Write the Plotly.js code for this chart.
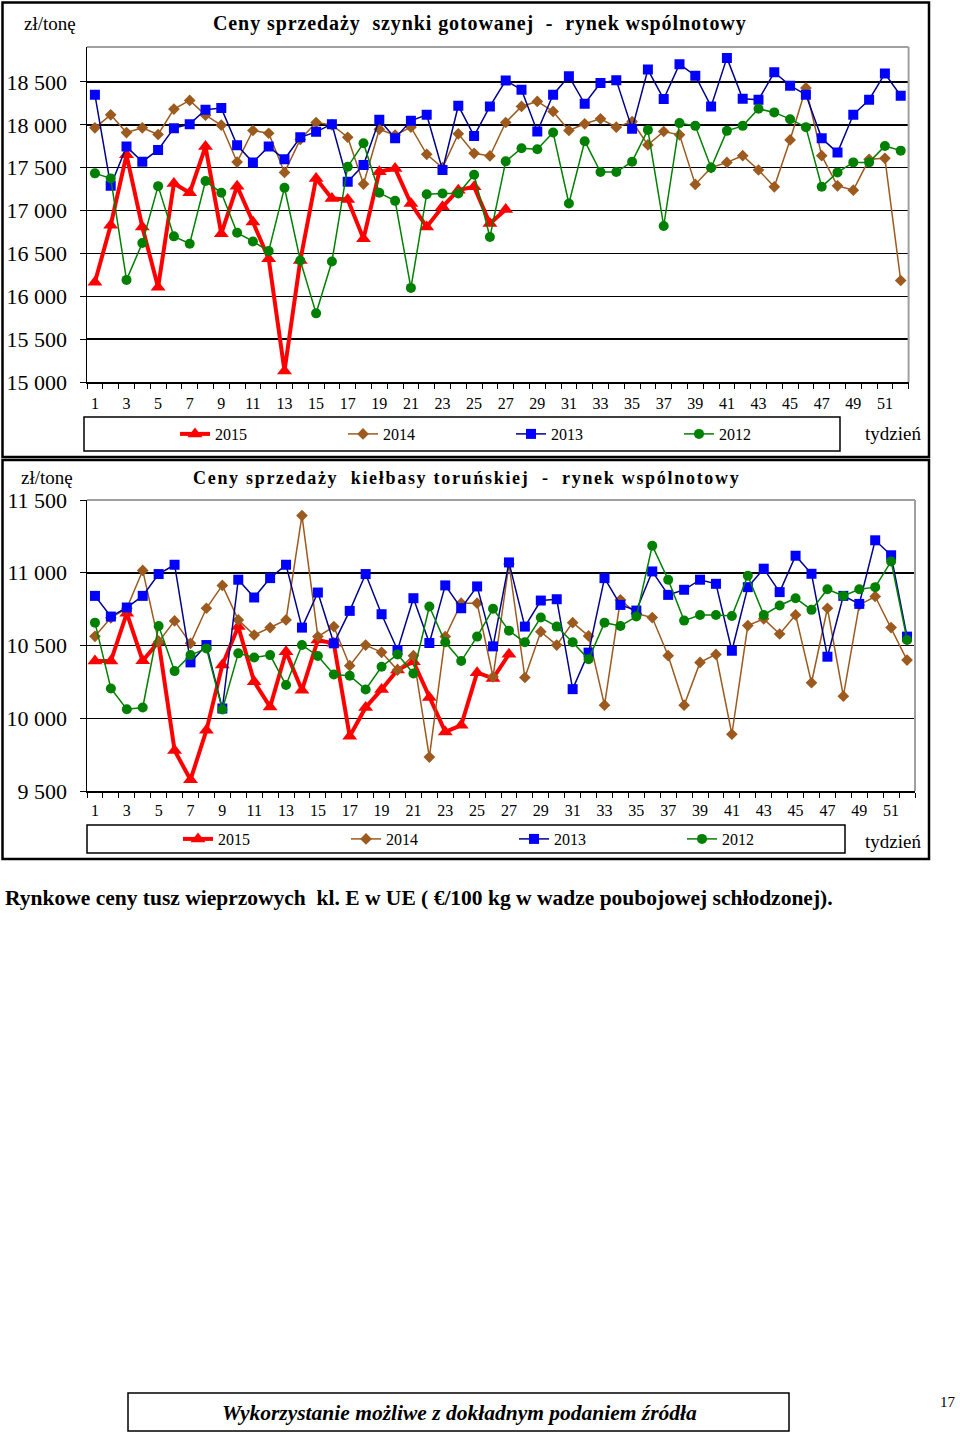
<!DOCTYPE html>
<html><head><meta charset="utf-8">
<script src="https://cdn.plot.ly/plotly-3.0.1.min.js"></script>
<style>html,body{margin:0;padding:0;background:#fff;} #chart{width:960px;height:1433px;}</style>
</head><body><div id="chart"></div>
<script>
// ---------- data ----------
const weeks = [1,2,3,4,5,6,7,8,9,10,11,12,13,14,15,16,17,18,19,20,21,22,23,24,25,26,27,28,29,30,31,32,33,34,35,36,37,38,39,40,41,42,43,44,45,46,47,48,49,50,51,52];
const weekTicks = [1,3,5,7,9,11,13,15,17,19,21,23,25,27,29,31,33,35,37,39,41,43,45,47,49,51];
const seriesNames = ['2015','2014','2013','2012'];

const hamTickVals = [15000,15500,16000,16500,17000,17500,18000,18500];
const hamTickText = ['15 000','15 500','16 000','16 500','17 000','17 500','18 000','18 500'];
const sausageTickVals = [9500,10000,10500,11000,11500];
const sausageTickText = ['9 500','10 000','10 500','11 000','11 500'];

// Ceny sprzedaży szynki gotowanej (zł/tonę)
const ham2015 = [16164,16828,17650,16809,16105,17316,17207,17746,16730,17285,16867,16437,15129,16418,17375,17141,17129,16672,17453,17492,17082,16809,17043,17238,17277,16848,17012];
const ham2014 = [17965,18117,17910,17965,17887,18184,18285,18113,17996,17566,17934,17902,17445,17830,18027,18000,17855,17309,17949,17880,17973,17656,17500,17895,17668,17637,18027,18215,18273,18156,17934,18012,18070,17973,18039,17766,17922,17883,17305,17500,17562,17640,17473,17277,17824,18430,17640,17289,17238,17598,17609,16184];
const ham2013 = [18352,17289,17746,17570,17707,17961,18008,18176,18195,17762,17562,17746,17598,17855,17918,18008,17336,17531,18059,17844,18047,18117,17473,18223,17871,18215,18516,18410,17922,18352,18566,18246,18488,18520,17953,18645,18301,18707,18574,18215,18781,18305,18293,18613,18457,18352,17844,17676,18117,18293,18598,18340];
const ham2012 = [17434,17375,16191,16621,17285,16699,16613,17344,17207,16742,16640,16527,17266,16418,15801,16406,17512,17785,17207,17113,16098,17191,17199,17199,17418,16691,17574,17727,17715,17910,17082,17809,17449,17449,17570,17941,16820,18020,17988,17500,17930,17988,18187,18145,18066,17973,17277,17445,17562,17562,17754,17699];

// Ceny sprzedaży kiełbasy toruńskiej (zł/tonę)
const sausage2015 = [10393,10393,10722,10395,10526,9779,9577,9917,10366,10630,10251,10078,10457,10193,10538,10515,9876,10074,10198,10331,10389,10142,9906,9952,10313,10274,10440];
const sausage2014 = [10563,10690,10756,11016,10526,10669,10515,10756,10913,10676,10572,10623,10676,11393,10561,10630,10361,10503,10453,10331,10430,9733,10561,10791,10791,10285,11060,10280,10595,10503,10657,10566,10090,10814,10720,10692,10430,10090,10384,10439,9890,10637,10683,10579,10710,10244,10756,10152,10779,10837,10623,10400];
const sausage2013 = [10841,10699,10761,10841,10991,11055,10384,10503,10067,10952,10830,10963,11055,10623,10864,10515,10738,10991,10715,10469,10825,10517,10913,10756,10906,10494,11071,10630,10809,10818,10200,10451,10963,10779,10740,11009,10848,10883,10952,10924,10464,10901,11028,10867,11117,10993,10423,10841,10786,11223,11120,10561];
const sausage2012 = [10657,10205,10062,10074,10634,10324,10434,10480,10060,10446,10418,10434,10228,10503,10428,10301,10292,10198,10354,10439,10308,10768,10522,10393,10561,10752,10602,10522,10692,10630,10522,10405,10657,10634,10699,11186,10952,10671,10710,10710,10703,10979,10710,10775,10825,10745,10887,10841,10887,10901,11078,10538];

// ---------- styling ----------
const SERIF = 'Liberation Serif, Times New Roman, serif';
const styles = {
  '2015': {mc:'#FF0000', lc:'#FF0000', lw:4,   sym:'triangle-up', size:13},
  '2014': {mc:'#9C5A1E', lc:'#9C5A1E', lw:1.5, sym:'diamond',     size:9},
  '2013': {mc:'#0000FF', lc:'#00008B', lw:1.5, sym:'square',      size:10},
  '2012': {mc:'#008000', lc:'#008000', lw:1.5, sym:'circle',      size:10}
};
const W = 960, H = 1433;
const px = v => v / W;
const py = v => 1 - v / H;

function mk(name, vals, xa, ya, leg) {
  const s = styles[name];
  return {
    type:'scatter', mode:'lines+markers', name:name,
    x: weeks.slice(0, vals.length), y: vals,
    xaxis: xa, yaxis: ya, legend: leg,
    line:{color:s.lc, width:s.lw},
    marker:{color:s.mc, symbol:s.sym, size:s.size, line:{width:0}},
    hoverinfo:'skip'
  };
}

const hamSeries = [ham2015, ham2014, ham2013, ham2012];
const sausageSeries = [sausage2015, sausage2014, sausage2013, sausage2012];
const traces = [];
seriesNames.forEach((n,i) => traces.push(mk(n, hamSeries[i], 'x', 'y', 'legend')));
seriesNames.forEach((n,i) => traces.push(mk(n, sausageSeries[i], 'x2', 'y2', 'legend2')));

function xAxis(domain, anchor, standoff) {
  return {
    domain: domain, anchor: anchor, range:[0.5, 52.5], fixedrange:true,
    tickmode:'array', tickvals: weekTicks, ticks:'', ticklabelstandoff: standoff,
    tickfont:{family:SERIF, size:16, color:'#000'},
    showline:true, linecolor:'#000', linewidth:1.5, showgrid:false, zeroline:false,
    minor:{ticks:'outside', ticklen:5, tickwidth:1, tickcolor:'#000', tickmode:'linear', tick0:0.5, dtick:1, showgrid:false}
  };
}
function yAxis(domain, anchor, range, tv, tt) {
  return {
    domain: domain, anchor: anchor, range: range, fixedrange:true,
    tickmode:'array', tickvals: tv, ticktext: tt,
    ticks:'outside', ticklen:6, tickwidth:1, tickcolor:'#000', ticklabelstandoff: 8,
    tickfont:{family:SERIF, size:22, color:'#000'},
    showline:true, linecolor:'#000', linewidth:1.5,
    showgrid:true, gridcolor:'#000', gridwidth:1.5, zeroline:false
  };
}

const shapes = [];
function rect(x0,y0,x1,y1,color,width){ shapes.push({type:'rect', xref:'paper', yref:'paper', x0:px(x0), x1:px(x1), y0:py(y0), y1:py(y1), line:{color:color, width:width}, fillcolor:'rgba(0,0,0,0)'}); }
function line(x0,y0,x1,y1,color,width){ shapes.push({type:'line', xref:'paper', yref:'paper', x0:px(x0), x1:px(x1), y0:py(y0), y1:py(y1), line:{color:color, width:width}}); }

// panel frames
rect(2.5,2.5,929,457,'#000',2.5);
rect(2.5,460,929,859,'#000',2.5);
// plot-area borders (grey)
line(87,47,908.6,47,'#A0A0A0',2); line(908.6,47,908.6,382,'#A0A0A0',2);
line(87,500,915,500,'#A0A0A0',2); line(915,500,915,791,'#A0A0A0',2);
// legend boxes
rect(84,417,840,451,'#000',1.5);
rect(87,825,845,853,'#000',1.5);
// footer box
rect(128,1393,789,1431,'#000',1.5);

const NB = '\u00A0';
function ann(text, x, y, size, opts) {
  return Object.assign({text:text, xref:'paper', yref:'paper', x:px(x), y:py(y), showarrow:false,
    xanchor:'center', yanchor:'middle', font:{family:SERIF, size:size, color:'#000'}}, opts||{});
}
const annotations = [
  ann('zł/tonę', 50, 24, 19),
  ann('<span style="letter-spacing:0.9px"><b>Ceny'+NB+'sprzedaży'+NB+NB+'szynki'+NB+'gotowanej'+NB+NB+'-'+NB+NB+'rynek'+NB+'wspólnotowy</b></span>', 480, 24, 20),
  ann('tydzień', 893, 433, 19),
  ann('zł/tonę', 47, 477, 19),
  ann('<span style="letter-spacing:1.7px"><b>Ceny'+NB+'sprzedaży'+NB+NB+'kiełbasy'+NB+'toruńskiej'+NB+NB+'-'+NB+NB+'rynek'+NB+'wspólnotowy</b></span>', 466, 478, 18),
  ann('tydzień', 893, 841, 19),
  ann('<b>Rynkowe ceny tusz wieprzowych'+NB+NB+'kl. E w UE ( €/100 kg w wadze poubojowej schłodzonej).</b>', 3, 898, 21.5, {xanchor:'left'}),
  ann('<b><i>Wykorzystanie możliwe z dokładnym podaniem źródła</i></b>', 459, 1413, 21.5),
  ann('17', 948, 1402, 15)
];

const legendBase = {orientation:'h', xanchor:'left', yanchor:'middle', bgcolor:'rgba(0,0,0,0)', borderwidth:0,
  font:{family:SERIF, size:16, color:'#000'}, entrywidth:123, entrywidthmode:'pixels', traceorder:'normal'};

const layout = {
  width:W, height:H, margin:{l:0,r:0,t:0,b:0,pad:0},
  paper_bgcolor:'#fff', plot_bgcolor:'#fff', showlegend:true,
  xaxis: xAxis([px(87), px(908.6)], 'y', 6),
  yaxis: yAxis([py(382), py(47)], 'x', [15000, 18908], hamTickVals, hamTickText),
  xaxis2: xAxis([px(87), px(915)], 'y2', 4),
  yaxis2: yAxis([py(791), py(500)], 'x2', [9500, 11500], sausageTickVals, sausageTickText),
  legend: Object.assign({}, legendBase, {x:px(175), y:py(434)}),
  legend2: Object.assign({}, legendBase, {x:px(178), y:py(839)}),
  shapes: shapes, annotations: annotations
};

Plotly.newPlot('chart', traces, layout, {displayModeBar:false, staticPlot:true});
</script></body></html>
